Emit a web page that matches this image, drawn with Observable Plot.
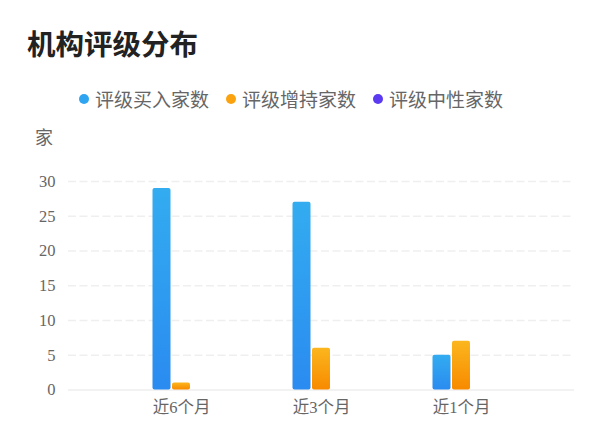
<!DOCTYPE html>
<html>
<head>
<meta charset="utf-8">
<script src="https://cdn.jsdelivr.net/npm/d3@7"></script>
<script src="https://cdn.jsdelivr.net/npm/@observablehq/plot@0.6"></script>
<style>
  html, body { margin: 0; padding: 0; background: #fff; }
  #wrap { position: relative; width: 600px; height: 446px; overflow: hidden; font-family: "Noto Sans CJK SC", "Noto Sans", sans-serif; }
  #wrap svg { position: absolute; left: 0; top: 0; }
  .title { position: absolute; left: 27px; top: 29px; font-size: 28.5px; line-height: 1; font-weight: bold; color: #222; white-space: nowrap; }
  .legend { position: absolute; left: 79px; top: 89px; display: flex; align-items: center; font-size: 19px; line-height: 1; color: #666; white-space: nowrap; }
  .legend .item { display: flex; align-items: center; margin-right: 17px; }
  .legend .dot { width: 10px; height: 10px; border-radius: 50%; margin-right: 6px; }
  .unit { position: absolute; left: 35px; top: 127px; font-size: 18px; line-height: 1; color: #666; }
</style>
</head>
<body>
<div id="wrap"></div>
<script>
const titleText = "机构评级分布";
const unitText = "家";
const categories = ["近6个月", "近3个月", "近1个月"];
const seriesNames = ["评级买入家数", "评级增持家数", "评级中性家数"];
const buyCounts = [29, 27, 5];
const addCounts = [1, 6, 7];
const neutralCounts = [0, 0, 0];
const yTicks = [0, 5, 10, 15, 20, 25, 30];
const seriesColors = ["#2fa4f0", "#fba30f", "#5b3af2"];

const seriesValues = [buyCounts, addCounts, neutralCounts];
const gradIds = ["gBuy", "gAdd", "gNeutral"];
const offsets = [-19.5, 0, 19.5];

const wrap = document.getElementById("wrap");

const tableFor = (vals) => categories.map((c, i) => ({category: c, value: vals[i]}));

const font = '"Liberation Serif", "Noto Sans CJK SC", serif';

const plot = Plot.plot({
  width: 600,
  height: 446,
  marginTop: 181,
  marginBottom: 56.5,
  marginLeft: 68,
  marginRight: 26,
  style: {fontFamily: font, fontSize: "16.5px", color: "#666", background: "transparent"},
  x: {domain: categories, paddingInner: 0.8683, paddingOuter: 0.7349, tickSize: 0, tickPadding: 11, label: null},
  y: {domain: [0, 30], ticks: yTicks, tickSize: 0, tickPadding: 13, label: null},
  marks: [
    Plot.ruleY(yTicks.filter(t => t > 0), {stroke: "#efefef", strokeDasharray: "8,3.5", strokeWidth: 1.5}),
    Plot.ruleY([0], {stroke: "#eeeeee", strokeWidth: 1.5}),
    ...seriesValues.map((vals, k) =>
      Plot.barY(tableFor(vals), {x: "category", y: "value", dx: offsets[k], fill: `url(#${gradIds[k]})`, rx: 2})
    )
  ]
});

// gradient definitions
const ns = "http://www.w3.org/2000/svg";
const defs = document.createElementNS(ns, "defs");
const grads = [
  ["gBuy", "#33acf0", "#2a8bf0"],
  ["gAdd", "#fbb61e", "#f88a00"],
  ["gNeutral", "#6a48f5", "#5530ee"]
];
for (const [id, top, bottom] of grads) {
  const g = document.createElementNS(ns, "linearGradient");
  g.setAttribute("id", id);
  g.setAttribute("x1", "0"); g.setAttribute("y1", "0");
  g.setAttribute("x2", "0"); g.setAttribute("y2", "1");
  const s1 = document.createElementNS(ns, "stop");
  s1.setAttribute("offset", "0"); s1.setAttribute("stop-color", top);
  const s2 = document.createElementNS(ns, "stop");
  s2.setAttribute("offset", "1"); s2.setAttribute("stop-color", bottom);
  g.appendChild(s1); g.appendChild(s2);
  defs.appendChild(g);
}
plot.insertBefore(defs, plot.firstChild);
wrap.appendChild(plot);

const title = document.createElement("div");
title.className = "title";
title.textContent = titleText;
wrap.appendChild(title);

const legend = document.createElement("div");
legend.className = "legend";
seriesNames.forEach((name, i) => {
  const item = document.createElement("div");
  item.className = "item";
  const dot = document.createElement("span");
  dot.className = "dot";
  dot.style.background = seriesColors[i];
  const label = document.createElement("span");
  label.textContent = name;
  item.appendChild(dot);
  item.appendChild(label);
  legend.appendChild(item);
});
wrap.appendChild(legend);

const unit = document.createElement("div");
unit.className = "unit";
unit.textContent = unitText;
wrap.appendChild(unit);
</script>
</body>
</html>
